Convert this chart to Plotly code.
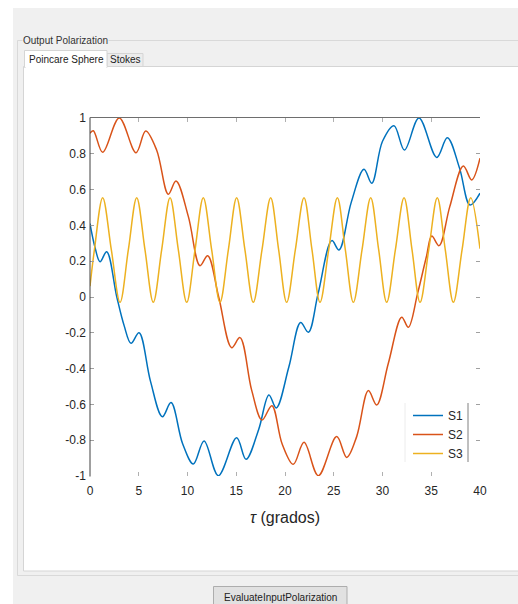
import plotly.graph_objects as go

W, H = 518, 604

# ---------------- data ----------------
s1_x = [0, 0.5, 1.03, 1.71, 2.75, 3.5, 4.21, 5.03, 6.2, 7.42, 8.31, 9.5, 10.6, 11.7, 13.16,
        15.04, 16.0, 17.3, 18.35, 19.1, 20.4, 21.6, 22.4, 23.4, 24.8, 25.54, 26.8, 28.1,
        28.9, 30.0, 31.18, 32.25, 33.74, 35.56, 36.65, 37.9, 38.97, 40]
s1_y = [0.41, 0.28, 0.197, 0.253, 0.0, -0.16, -0.259, -0.20, -0.47, -0.669, -0.59, -0.82,
        -0.933, -0.804, -0.998, -0.786, -0.907, -0.74, -0.547, -0.62, -0.39, -0.143, -0.197,
        0.02, 0.315, 0.263, 0.53, 0.713, 0.635, 0.87, 0.957, 0.821, 1.0, 0.78, 0.89, 0.72,
        0.514, 0.58]

s2_x = [0, 0.34, 1.3, 3.0, 4.72, 5.71, 6.84, 8.03, 8.82, 10.09, 11.28, 12.07, 13.2, 14.53,
        15.38, 16.58, 17.64, 18.65, 19.7, 20.85, 21.95, 23.42, 25.3, 26.33, 27.35, 28.55,
        29.4, 30.6, 31.97, 32.65, 33.6, 34.5, 35.05, 35.8, 36.9, 38.29, 39.15, 40]
s2_y = [0.915, 0.929, 0.808, 1.0, 0.806, 0.927, 0.82, 0.574, 0.648, 0.449, 0.175, 0.231, 0.0,
        -0.283, -0.227, -0.52, -0.687, -0.607, -0.82, -0.935, -0.812, -0.998, -0.78, -0.896,
        -0.78, -0.523, -0.603, -0.37, -0.113, -0.169, 0.02, 0.225, 0.341, 0.287, 0.505, 0.732,
        0.654, 0.775]

s3_x = [0, 0.45, 1.30, 2.19, 3.08, 3.93, 4.79, 5.64, 6.49, 7.35, 8.21, 9.06, 9.92, 10.77,
        11.62, 12.48, 13.33, 14.19, 15.04, 15.89, 16.75, 17.64, 18.53, 19.35, 20.17, 21.06,
        21.95, 22.77, 23.59, 24.48, 25.37, 26.19, 27.01, 27.90, 28.79, 29.61, 30.43, 31.32,
        32.21, 33.03, 33.85, 34.74, 35.62, 36.44, 37.27, 38.16, 39.05, 40]
s3_y = [0.06, 0.263, 0.555, 0.263, -0.03, 0.263, 0.555, 0.263, -0.03, 0.263, 0.555, 0.263,
        -0.03, 0.263, 0.555, 0.263, -0.03, 0.263, 0.555, 0.263, -0.03, 0.263, 0.555, 0.263,
        -0.03, 0.263, 0.555, 0.263, -0.03, 0.263, 0.555, 0.263, -0.03, 0.263, 0.555, 0.263,
        -0.03, 0.263, 0.555, 0.263, -0.03, 0.263, 0.555, 0.263, -0.03, 0.263, 0.555, 0.27]

series_names = ["S1", "S2", "S3"]
series_colors = ["#0072BD", "#D95319", "#EDB120"]

x_ticks = [0, 5, 10, 15, 20, 25, 30, 35, 40]
y_ticks = [-1, -0.8, -0.6, -0.4, -0.2, 0, 0.2, 0.4, 0.6, 0.8, 1]
y_tick_text = ["-1", "-0.8", "-0.6", "-0.4", "-0.2", "0", "0.2", "0.4", "0.6", "0.8", "1"]


def px(x):
    return x / W


def py(y):
    return 1 - y / H


fig = go.Figure()
for xs, ys, name, col in zip([s1_x, s2_x, s3_x], [s1_y, s2_y, s3_y], series_names, series_colors):
    fig.add_trace(go.Scatter(x=xs, y=ys, mode="lines", name=name,
                             line=dict(color=col, width=1.5, shape="spline", smoothing=1)))

shapes = []


def rect(x0, y0, x1, y1, fill=None, line=None, lw=1, layer="below"):
    shapes.append(dict(type="rect", xref="paper", yref="paper", x0=px(x0), x1=px(x1),
                       y0=py(y0), y1=py(y1), fillcolor=fill or "rgba(0,0,0,0)",
                       line=dict(color=line or "rgba(0,0,0,0)", width=lw if line else 0),
                       layer=layer))


def hline(x0, x1, y, color, lw=1, layer="below"):
    shapes.append(dict(type="line", xref="paper", yref="paper", x0=px(x0), x1=px(x1),
                       y0=py(y), y1=py(y), line=dict(color=color, width=lw), layer=layer))


def vline(x, y0, y1, color, lw=1, layer="below"):
    shapes.append(dict(type="line", xref="paper", yref="paper", x0=px(x), x1=px(x),
                       y0=py(y0), y1=py(y1), line=dict(color=color, width=lw), layer=layer))


# GUI background
rect(13, 8, 520, 610, fill="#f0f0f0")
rect(17.5, 40.5, 525, 575.5, line="#d9d9d9")
rect(23.5, 66.5, 525, 571, fill="#ffffff", line="#d5d5d5")
# tabs
rect(107, 53.5, 143, 66.5, fill="#ececec", line="#d5d5d5")
rect(24.5, 50.5, 107, 67.5, fill="#ffffff", line="#d5d5d5")
hline(25.5, 106.5, 67, "#ffffff", lw=2)
# button
rect(213.5, 586.5, 347, 612, fill="#e1e1e1", line="#adadad")

# axes lines (MATLAB style: left and top visible)
vline(90, 117.5, 476.5, "#404040", lw=1, layer="above")
hline(90, 480, 117.5, "#6e6e6e", lw=1, layer="above")
# legend borders
vline(468, 403, 462, "#808080", lw=1, layer="above")
vline(405, 403, 462, "#ececec", lw=1, layer="above")

annotations = [
    dict(text="Output Polarization", xref="paper", yref="paper", x=px(22), y=py(40.5),
         xanchor="left", yanchor="middle", showarrow=False, bgcolor="#f0f0f0",
         font=dict(family="Liberation Sans, Arial", size=10, color="#333333"), borderpad=0),
    dict(text="Poincare Sphere", xref="paper", yref="paper", x=px(66), y=py(59),
         xanchor="center", yanchor="middle", showarrow=False,
         font=dict(family="Liberation Sans, Arial", size=10, color="#222222")),
    dict(text="Stokes", xref="paper", yref="paper", x=px(125), y=py(60),
         xanchor="center", yanchor="middle", showarrow=False,
         font=dict(family="Liberation Sans, Arial", size=10, color="#222222")),
    dict(text="EvaluateInputPolarization", xref="paper", yref="paper", x=px(280), y=py(597),
         xanchor="center", yanchor="middle", showarrow=False,
         font=dict(family="Liberation Sans, Arial", size=10, color="#222222")),
    dict(text="<i>τ</i> (grados)", xref="paper", yref="paper", x=px(285), y=py(517),
         xanchor="center", yanchor="middle", showarrow=False,
         font=dict(family="Liberation Sans, Arial", size=16, color="#262626")),
]

axis_font = dict(family="Liberation Sans, Arial, Helvetica", size=12, color="#262626")

fig.update_layout(
    width=W, height=H,
    margin=dict(l=0, r=0, t=0, b=0, autoexpand=False),
    paper_bgcolor="#ffffff",
    plot_bgcolor="rgba(0,0,0,0)",
    shapes=shapes,
    annotations=annotations,
    showlegend=True,
    legend=dict(x=px(469), xanchor="right", y=py(401), yanchor="top",
                bgcolor="rgba(0,0,0,0)", borderwidth=0, font=axis_font,
                tracegroupgap=0, itemwidth=30),
    xaxis=dict(domain=[px(90), px(480)], range=[0, 40], tickvals=x_ticks,
               ticks="inside", ticklen=4, tickcolor="#b0b0b0", mirror="ticks",
               showline=False, showgrid=False, zeroline=False, tickfont=axis_font,
               automargin=False, ticklabelstandoff=6),
    yaxis=dict(domain=[py(476), py(118)], range=[-1, 1], tickvals=y_ticks,
               ticktext=y_tick_text, ticks="inside", ticklen=4, tickcolor="#a0a0a0",
               mirror="ticks", showline=False, showgrid=False, zeroline=False,
               tickfont=axis_font, automargin=False, ticklabelstandoff=3),
)

fig.write_html("out.html")
